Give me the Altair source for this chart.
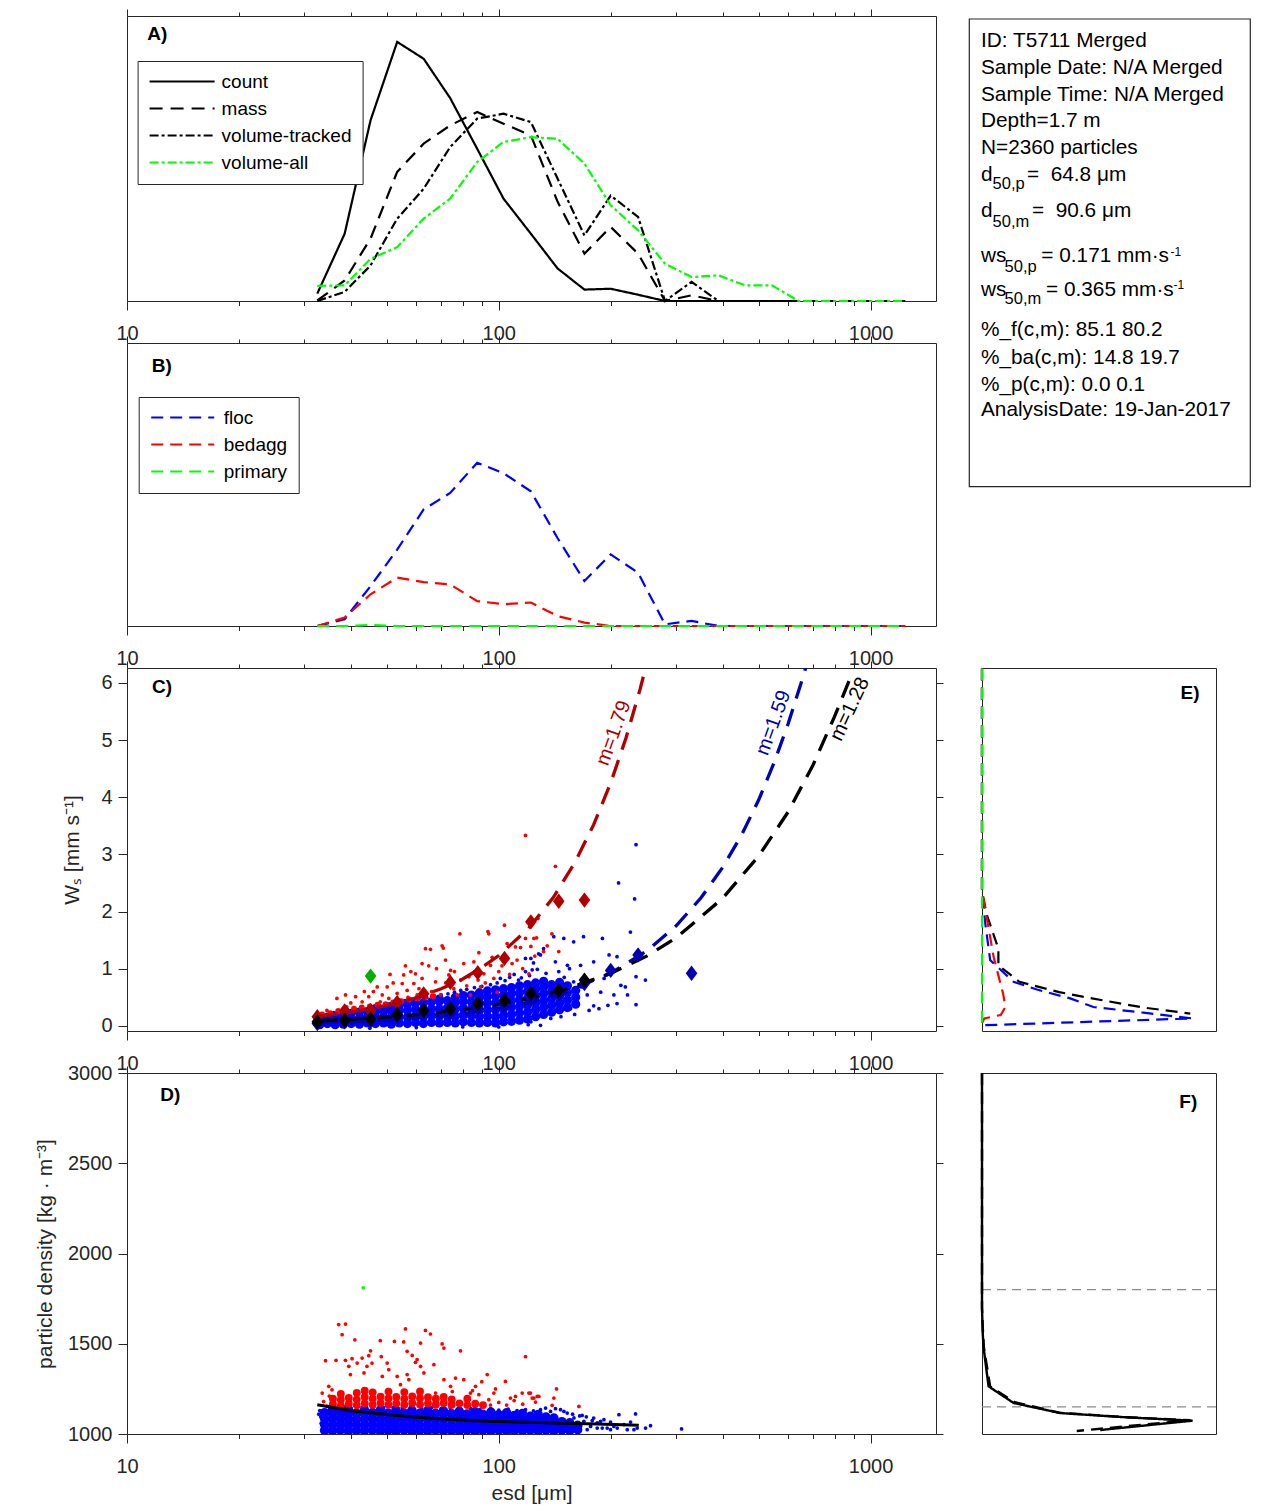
import altair as alt
import pandas as pd

FONT = "Liberation Sans"
INK = "#262626"
BLUE = "#0000ff"
RED = "#ff0000"
GREEN = "#00ff00"
DRED = "#b00000"
DBLUE = "#0000b4"
DGREEN = "#00b000"

# ---------------- size bins (um) for panels A and B ----------------
BINS = [32.5, 38.5, 45.2, 53.3, 62.8, 74.0, 87.5, 103, 122, 144, 170, 200, 237,
        280, 330, 390, 460, 543, 640, 755, 890, 1050, 1240]

A_COUNT = [0.026, 0.236, 0.634, 0.909, 0.850, 0.712, 0.534, 0.359, 0.236, 0.114,
           0.040, 0.043, 0.022, 0.0, 0.0, 0.0, 0.0, 0.0, 0.0]
A_MASS = [0.002, 0.072, 0.219, 0.453, 0.552, 0.616, 0.663, 0.622, 0.581, 0.348,
          0.166, 0.260, 0.166, 0.0, 0.020, 0.0, 0.0, 0.0, 0.0]
A_VOLTRACK = [0.0, 0.032, 0.125, 0.289, 0.394, 0.540, 0.640, 0.657, 0.628, 0.429,
              0.230, 0.370, 0.295, 0.0, 0.067, 0.0, 0.0, 0.0, 0.0, 0.0, 0.0, 0.0, 0.0]
A_VOLALL = [0.053, 0.055, 0.148, 0.189, 0.289, 0.359, 0.488, 0.558, 0.575, 0.569,
            0.482, 0.336, 0.248, 0.131, 0.084, 0.090, 0.055, 0.055, 0.0, 0.0, 0.0, 0.0, 0.0]

B_FLOC = [0.0, 0.024, 0.141, 0.27, 0.412, 0.47, 0.577, 0.54, 0.476, 0.31, 0.159,
          0.253, 0.188, 0.006, 0.018, 0.0, 0.0, 0.0, 0.0, 0.0, 0.0, 0.0, 0.0]
B_BEDAGG = [0.0, 0.03, 0.112, 0.171, 0.155, 0.147, 0.088, 0.077, 0.083, 0.035,
            0.012, 0.0, 0.0, 0.0, 0.0, 0.0, 0.0, 0.0, 0.0, 0.0, 0.0, 0.0, 0.0]
B_PRIMARY = [0.0, 0.0, 0.004, 0.0, 0.0, 0.0, 0.0, 0.0, 0.0, 0.0, 0.0, 0.0, 0.0,
             0.0, 0.0, 0.0, 0.0, 0.0, 0.0, 0.0, 0.0, 0.0, 0.0]

# ---------------- panel C: settling velocity vs esd ----------------
C_FLOC_CORE = [
    (33.0, [0.02, 0.12]), (34.6, [0.04, 0.14]), (36.3, [0.02, 0.11, 0.17]),
    (38.2, [0.03, 0.13, 0.2]), (40.1, [0.04, 0.12, 0.22]), (42.2, [0.03, 0.14, 0.24]),
    (44.3, [0.05, 0.15, 0.25]), (46.6, [0.04, 0.14, 0.24, 0.3]), (49.0, [0.05, 0.16, 0.27]),
    (51.4, [0.03, 0.14, 0.25, 0.34]), (54.0, [0.05, 0.16, 0.27, 0.36]),
    (56.8, [0.04, 0.15, 0.27, 0.38]), (59.7, [0.06, 0.17, 0.29, 0.4]),
    (62.7, [0.04, 0.16, 0.28, 0.4]), (65.9, [0.06, 0.18, 0.3, 0.42]),
    (69.2, [0.05, 0.17, 0.3, 0.43, 0.47]), (72.7, [0.06, 0.18, 0.31, 0.44]),
    (76.4, [0.05, 0.17, 0.29, 0.41, 0.5]), (80.3, [0.07, 0.19, 0.31, 0.43, 0.53]),
    (84.4, [0.06, 0.18, 0.3, 0.42, 0.54]), (88.7, [0.05, 0.16, 0.27, 0.38, 0.49, 0.58]),
    (93.2, [0.06, 0.17, 0.28, 0.4, 0.51, 0.61]), (98.0, [0.05, 0.16, 0.28, 0.4, 0.52, 0.63]),
    (103.0, [0.07, 0.18, 0.3, 0.42, 0.54, 0.65]), (108.2, [0.08, 0.2, 0.32, 0.44, 0.56, 0.67]),
    (113.7, [0.1, 0.22, 0.34, 0.46, 0.58, 0.7]), (119.5, [0.12, 0.24, 0.36, 0.48, 0.6, 0.72]),
    (125.6, [0.16, 0.28, 0.4, 0.52, 0.64, 0.75]), (132.0, [0.2, 0.32, 0.44, 0.56, 0.68, 0.78]),
    (138.7, [0.24, 0.36, 0.48, 0.6, 0.72]), (145.7, [0.28, 0.4, 0.52, 0.64, 0.76]),
    (153.0, [0.32, 0.45, 0.58, 0.7]), (161.0, [0.38, 0.5, 0.62]),
]
C_FLOC_DOTS = [
    (32.6, -0.03), (33.4, 0.19), (34.5, 0.2), (36.0, 0.23), (37.5, 0.19), (39.0, 0.26),
    (41.0, 0.29), (43.0, 0.3), (45.5, 0.33), (48.0, 0.35), (50.5, 0.38), (53.0, 0.41),
    (56.0, 0.44), (58.5, 0.46), (61.0, 0.48), (64.0, 0.5), (67.0, 0.53), (70.0, 0.54),
    (73.0, 0.56), (76.0, 0.59), (79.0, 0.62), (82.0, 0.64), (86.0, 0.67), (90.0, 0.69),
    (95.0, 0.72), (99.0, 0.75), (101.0, 0.83), (104.0, 0.79), (107.0, 0.85), (110.0, 0.9),
    (113.0, 0.8), (115.0, 0.84), (118.0, 0.95), (118.0, 1.18), (121.0, 0.88), (123.0, 0.98),
    (124.0, 1.1), (128.0, 1.26), (122.0, 1.18), (127.0, 0.99), (129.5, 1.24), (132.0, 1.35),
    (134.0, 0.92), (138.0, 0.13), (140.6, 1.56), (142.0, 1.12), (145.0, 0.95), (147.0, 0.16),
    (149.6, 1.53), (150.0, 0.85), (153.0, 1.06), (155.0, 1.0), (156.0, 0.3), (159.0, 1.47),
    (159.0, 0.77), (160.0, 0.2), (166.0, 1.06), (167.0, 0.68), (169.0, 1.56), (173.0, 0.54),
    (175.0, 0.27), (180.0, 1.12), (180.0, 0.35), (186.0, 0.3), (188.0, 0.59), (190.0, 1.53),
    (192.0, 0.83), (196.6, 0.36), (198.0, 1.24), (204.0, 0.54), (208.0, 1.21), (208.0, 0.39),
    (210.0, 2.5), (213.0, 0.71), (219.0, 0.68), (222.0, 0.54), (226.0, 1.64), (232.0, 2.22),
    (234.0, 3.17), (234.0, 0.86), (234.0, 0.37), (248.0, 0.8), (122.0, 0.07), (129.5, 0.01),
    (100.0, -0.02), (80.0, -0.02), (60.0, -0.03), (45.0, -0.04), (120.0, 0.02),
]
C_BED_CORE = [
    (33.5, 0.2), (35.2, 0.22), (37.0, 0.26), (38.8, 0.28), (40.8, 0.3), (42.8, 0.32),
    (45.0, 0.34), (47.2, 0.37), (49.6, 0.38), (52.0, 0.41), (54.7, 0.43), (57.4, 0.46),
    (60.3, 0.48), (63.3, 0.5), (66.5, 0.52),
]
C_BED_DOTS = [
    (34.5, 0.27), (36.7, 0.48), (38.7, 0.54), (41.2, 0.51), (42.9, 0.42), (44.7, 0.51),
    (47.1, 0.68), (48.6, 0.54), (50.1, 0.68), (50.6, 0.48), (53.3, 0.57), (55.0, 0.74),
    (55.5, 0.89), (56.1, 1.05), (56.7, 0.62), (59.1, 0.74), (59.7, 0.91), (60.3, 0.54),
    (62.2, 0.83), (63.5, 1.35), (65.5, 1.34), (62.2, 1.09), (64.8, 1.05), (67.6, 0.77),
    (69.7, 0.54), (70.4, 1.40), (70.9, 1.36), (71.9, 1.15), (73.4, 0.89), (74.2, 0.97),
    (75.7, 0.65), (77.3, 0.54), (78.6, 1.61), (80.5, 1.09), (83.1, 0.86), (83.9, 0.54),
    (85.7, 1.12), (88.4, 1.28), (89.3, 0.68), (91.2, 0.91), (93.5, 1.65), (94.0, 1.61),
    (95.0, 1.06), (97.0, 0.83), (99.0, 0.59), (103.6, 1.76), (105.3, 1.44), (108.6, 1.09),
    (110.9, 1.38), (114.4, 1.37), (118.0, 3.33), (118.0, 1.53), (120.5, 0.91), (124.3, 1.53),
    (126.4, 1.54), (127.5, 1.88), (139.0, 1.61), (142.0, 2.79), (122.0, 1.39), (125.0, 1.22),
    (132.0, 1.3), (45.0, 0.35), (46.0, 0.6), (48.0, 0.42), (52.0, 0.75), (54.0, 0.45),
    (57.0, 0.5), (58.0, 0.95), (61.0, 0.65), (66.0, 0.6), (68.0, 1.0), (72.0, 0.75),
    (76.0, 0.95), (79.0, 0.8), (82.0, 0.7), (86.0, 0.95), (88.0, 0.8), (92.0, 0.75),
    (96.0, 1.2), (100.0, 0.95), (102.0, 1.05), (107.0, 0.9), (112.0, 1.15), (116.0, 1.0),
    (135.0, 1.4), (145.0, 1.3), (40.0, 0.4), (39.0, 0.33), (43.5, 0.6), (51.0, 0.9),
]
# binned medians (diamonds)
C_MED_BEDAGG = [(32.5, 0.16), (38.5, 0.26), (45.2, 0.27), (53.3, 0.41), (62.8, 0.56),
                (74.1, 0.76), (87.8, 0.93), (103.6, 1.18), (122, 1.82), (145, 2.18), (170, 2.2)]
C_MED_FLOC = [(32.5, 0.04), (38.5, 0.07), (45.2, 0.08), (53.3, 0.16), (62.8, 0.22),
              (74.1, 0.22), (87.8, 0.30), (103.6, 0.36), (122, 0.47), (145, 0.56),
              (170, 0.74), (200, 0.97), (237, 1.24), (330, 0.92)]
C_MED_ALL = [(32.5, 0.07), (38.5, 0.1), (45.2, 0.12), (53.3, 0.2), (62.8, 0.27),
             (74.1, 0.3), (87.8, 0.39), (103.6, 0.45), (122, 0.57), (145, 0.62), (170, 0.8)]
C_MED_PRIMARY = [(45.2, 0.87)]
# fitted curves
FIT_BED_D = [33, 40, 50, 60, 70, 80, 90, 100, 120, 140, 160, 180, 200, 220, 240, 255]
FIT_BED_W = [0.17, 0.24, 0.355, 0.49, 0.65, 0.82, 1.02, 1.23, 1.70, 2.24, 2.85, 3.52,
             4.25, 5.04, 5.89, 6.56]
FIT_FLOC_D = [33, 40, 50, 60, 70, 80, 100, 120, 150, 200, 250, 300, 350, 400, 450, 500,
              550, 600, 650, 690]
FIT_FLOC_W = [0.052, 0.071, 0.10, 0.136, 0.173, 0.214, 0.305, 0.408, 0.582, 0.92, 1.31,
              1.75, 2.24, 2.77, 3.34, 3.95, 4.60, 5.28, 5.99, 6.55]
FIT_ALL_D = [33, 40, 50, 60, 70, 80, 100, 120, 150, 200, 250, 300, 400, 500, 600, 700, 800, 875]
FIT_ALL_W = [0.092, 0.117, 0.156, 0.197, 0.239, 0.284, 0.378, 0.477, 0.635, 0.918, 1.22,
             1.54, 2.23, 2.97, 3.74, 4.56, 5.41, 6.03]
FIT_LABELS = [("m=1.79", 203.6, 5.12), ("m=1.59", 548, 5.30), ("m=1.28", 879, 5.54)]

# ---------------- panel D: particle density vs esd ----------------
D_FLOC_CORE = [
    (34.0, [1020, 1052, 1085, 1118]), (35.7, [1016, 1048, 1080, 1112, 1135]),
    (37.5, [1022, 1055, 1088, 1120]), (39.4, [1015, 1047, 1079, 1110, 1136]),
    (41.4, [1020, 1052, 1084, 1116]), (43.5, [1016, 1048, 1080, 1112, 1134]),
    (45.7, [1021, 1053, 1086, 1118]), (48.0, [1015, 1047, 1079, 1111, 1133]),
    (50.4, [1020, 1052, 1084, 1116]), (52.9, [1016, 1048, 1080, 1112, 1132]),
    (55.6, [1021, 1053, 1085, 1117]), (58.4, [1015, 1047, 1079, 1110, 1131]),
    (61.3, [1020, 1051, 1083, 1115]), (64.4, [1016, 1048, 1080, 1111, 1130]),
    (67.6, [1021, 1052, 1084, 1115]), (71.0, [1015, 1046, 1078, 1109, 1128]),
    (74.6, [1020, 1051, 1082, 1113]), (78.3, [1016, 1047, 1078, 1108, 1126]),
    (82.2, [1021, 1051, 1081, 1111]), (86.3, [1015, 1045, 1076, 1106, 1124]),
    (90.6, [1020, 1050, 1080, 1109]), (95.2, [1016, 1046, 1076, 1104, 1122]),
    (100.0, [1021, 1050, 1079, 1107]), (105.0, [1015, 1044, 1073, 1101, 1118]),
    (110.2, [1020, 1048, 1076, 1103]), (115.8, [1016, 1044, 1071, 1098, 1113]),
    (121.6, [1021, 1047, 1073, 1098]), (127.7, [1016, 1042, 1068, 1093, 1108]),
    (134.0, [1021, 1046, 1070, 1094]), (140.7, [1017, 1042, 1066, 1088]),
    (147.8, [1022, 1046, 1068]), (155.2, [1018, 1042, 1062]), (163.0, [1024, 1048]),
]
D_FLOC_DOTS = [
    (32.8, 1110), (33.0, 1130), (33.2, 1095), (33.3, 1060), (33.6, 1035), (34.2, 1008),
    (36.0, 1140), (37.0, 1148), (38.5, 1150), (40.0, 1145), (42.0, 1152), (44.0, 1148),
    (46.0, 1150), (49.0, 1146), (52.0, 1148), (55.0, 1145), (58.0, 1150), (62.0, 1142),
    (66.0, 1147), (70.0, 1140), (74.0, 1145), (79.0, 1138), (84.0, 1142), (89.0, 1135),
    (95.0, 1140), (100.0, 1132), (106.0, 1138), (112.0, 1130), (118.0, 1135), (124.0, 1128),
    (129.5, 1135), (133.6, 1144), (137.8, 1125), (142.1, 1140), (146.6, 1135), (149.7, 1125),
    (152.8, 1116), (159.3, 1089), (167.6, 1103), (169.4, 1070), (178.4, 1074), (184.0, 1061),
    (187.8, 1070), (191.8, 1079), (199.8, 1066), (204.0, 1042), (210.5, 1107), (217.1, 1052),
    (226.2, 1066), (233.3, 1111), (235.7, 1033), (248.2, 1033), (256.0, 1046), (310.2, 1028),
    (184.0, 1033), (165.9, 1042), (156.0, 1029), (149.7, 1014), (137.8, 1014), (208.3, 1033),
    (221.6, 1024), (195.7, 1033), (176.6, 1042), (162.6, 1061), (172.9, 1024), (199.8, 1024),
    (231.0, 1024), (189.8, 1033), (158.0, 1110), (165.0, 1100), (172.0, 1095), (180.0, 1088),
]
D_BED_CORE = [
    (35.8, [1165, 1195]), (37.6, [1158, 1190, 1222]), (39.5, [1168, 1200]),
    (41.5, [1160, 1192, 1228]), (43.6, [1170, 1205, 1240]), (45.8, [1162, 1195, 1230]),
    (48.1, [1172, 1207]), (50.5, [1163, 1197, 1235]), (53.0, [1170, 1205]),
    (55.7, [1162, 1196, 1232]), (58.5, [1172, 1208]), (61.4, [1163, 1198, 1236]),
    (64.5, [1170, 1204]), (67.7, [1162, 1195]), (71.1, [1172, 1205]), (74.7, [1162, 1192]),
    (78.4, [1170]), (82.3, [1160, 1195]), (86.4, [1168]), (90.7, [1160]),
]
D_BED_DOTS = [
    (34.2, 1406), (36.5, 1408), (38.7, 1408), (40.3, 1417), (42.9, 1421), (37.1, 1606),
    (38.7, 1609), (37.9, 1550), (41.0, 1522), (48.0, 1517), (52.4, 1513), (55.5, 1510),
    (56.1, 1582), (63.5, 1574), (65.5, 1554), (70.4, 1499), (71.2, 1476), (78.9, 1461),
    (118.0, 1428), (45.2, 1461), (44.7, 1434), (48.3, 1428), (56.7, 1458), (58.5, 1435),
    (60.3, 1412), (59.7, 1397), (61.6, 1504), (33.5, 1227), (34.9, 1264), (35.6, 1245),
    (39.5, 1375), (39.9, 1329), (41.6, 1393), (43.4, 1338), (44.2, 1375), (45.6, 1393),
    (48.6, 1319), (50.1, 1393), (50.6, 1356), (53.3, 1319), (54.4, 1273), (56.7, 1329),
    (57.3, 1301), (61.6, 1375), (62.9, 1338), (66.9, 1384), (67.6, 1227), (71.2, 1301),
    (74.2, 1264), (76.5, 1310), (80.5, 1301), (83.9, 1227), (86.6, 1264), (88.4, 1218),
    (93.1, 1329), (94.0, 1190), (97.0, 1227), (104.2, 1291), (107.5, 1199), (110.9, 1208),
    (115.6, 1227), (120.5, 1227), (124.3, 1199), (128.2, 1208), (121.7, 1227), (123.0, 1199),
    (126.9, 1208), (125.6, 1177), (139.2, 1159), (140.7, 1199), (143.0, 1250), (164.3, 1153),
    (33.8, 1180), (34.5, 1155), (35.0, 1210), (95.0, 1160), (100.0, 1175), (105.0, 1160),
    (110.0, 1185), (116.0, 1165), (98.0, 1250), (90.0, 1290), (85.0, 1240), (75.0, 1235),
]
D_FIT_D = [32.5, 40.6, 50.1, 61.6, 75.7, 93.1, 121.7, 149.7, 184, 238]
D_FIT_R = [1162, 1128, 1108, 1092, 1080, 1071, 1065, 1060, 1055, 1048]
D_PRIMARY = [(43.2, 1810)]

# ---------------- panel E: distributions over settling velocity ----------------
E_ALL_F = [0.0, 0.0, 0.02, 0.07, 0.07, 0.16, 0.33, 0.47, 0.69, 0.89]
E_ALL_W = [6.25, 2.35, 1.95, 1.35, 1.06, 0.77, 0.59, 0.48, 0.32, 0.215]
E_FLOC_F = [0.0, 0.0, 0.014, 0.035, 0.135, 0.235, 0.377, 0.476, 0.69, 0.90, 0.0]
E_FLOC_W = [6.25, 2.37, 1.79, 1.15, 0.77, 0.635, 0.48, 0.33, 0.23, 0.13, 0.01]
E_BED_F = [0.0, 0.0, 0.02, 0.05, 0.09, 0.10, 0.08, 0.01, 0.0]
E_BED_W = [6.25, 2.37, 1.9, 1.2, 0.565, 0.33, 0.19, 0.13, 0.05]
E_PRIM_F = [0.0, 0.0]
E_PRIM_W = [6.25, 0.0]

# ---------------- panel F: distributions over density ----------------
F_SOLID_F = [0.0, 0.0, 0.003, 0.007, 0.028, 0.135, 0.334, 0.62, 0.90, 0.505]
F_SOLID_R = [3000, 1700, 1560, 1476, 1264, 1172, 1116, 1092, 1074, 1022]
F_DASH_F = [0.0, 0.0, 0.004, 0.008, 0.035, 0.14, 0.33, 0.62, 0.89, 0.405]
F_DASH_R = [3000, 1700, 1570, 1480, 1262, 1176, 1118, 1093, 1076, 1017]
F_REF = [1800, 1150]

# ---------------- info box ----------------
BOX_MAIN = ["ID: T5711 Merged", "Sample Date: N/A Merged", "Sample Time: N/A Merged",
            "Depth=1.7 m", "N=2360 particles", "d", "=\u00a0 64.8 μm", "d", "=\u00a0 90.6 μm",
            "ws", "= 0.171 mm·s", "ws", "= 0.365 mm·s", "%_f(c,m): 85.1 80.2",
            "%_ba(c,m): 14.8 19.7", "%_p(c,m): 0.0 0.1", "AnalysisDate: 19-Jan-2017"]
BOX_SUB = ["50,p", "50,m", "50,p", "50,m"]
BOX_SUP = ["-1", "-1"]

# layout of the info box (pixels inside its cell)
MAIN_XY = [(-1, 30.7), (-1, 58), (-1, 84.7), (-1, 111.4), (-1, 138), (-1, 164.7), (45, 164.7),
           (-1, 201.4), (50, 201.4), (-1, 246.4), (59.3, 246.4), (-1, 279.7), (64, 279.7),
           (-1, 319.7), (-1, 348), (-1, 374.7), (-1, 399.7)]
SUB_XY = [(10.6, 173), (10.6, 211.4), (22.6, 256.4), (22.6, 288)]
SUP_XY = [(188.5, 239.7), (191.5, 273)]

# ======================================================================
ONE = pd.DataFrame({"k": [0]})
W_MAIN = 809
XT = [10, 20, 30, 40, 50, 60, 70, 80, 90, 100, 200, 300, 400, 500, 600, 700, 800, 900, 1000]
MAJ = "datum.value == 10 || datum.value == 100 || datum.value == 1000"
XS = alt.Scale(type="log", domain=[10, 1500], nice=False)
CY = alt.Scale(domain=[-0.09, 6.26], nice=False, zero=False)
DY = alt.Scale(domain=[1000, 3000], nice=False, zero=False)
FX = alt.Scale(domain=[0, 1], nice=False, zero=False)


def x_bottom(title=None):
    kw = dict(orient="bottom", values=XT, labelExpr=f"({MAJ}) ? datum.value + '' : ''",
              tickSize={"condition": {"test": MAJ, "value": 9}, "value": 4.5},
              labelPadding=13, labelFlush=False, labelOverlap=False)
    if title is None:
        return alt.Axis(title=None, **kw)
    return alt.Axis(title=title, titleX=W_MAIN / 2, titleY=65, titleBaseline="alphabetic",
                    titleFontSize=21, **kw)


def x_top():
    return alt.Axis(orient="top", values=XT, title=None, labels=False,
                    tickSize={"condition": {"test": MAJ, "value": 7}, "value": 4})


def y_title_only(title, tx, ty):
    return alt.Axis(orient="left", title=title, ticks=False, labels=False, titleX=tx,
                    titleY=ty, titleAngle=270, titleBaseline="middle", titleAlign="center")


def plabel(txt, x, y, align="left"):
    return alt.Chart(ONE).mark_text(text=txt, fontSize=19, fontWeight="bold", align=align,
                                    baseline="middle", color="black").encode(
        x=alt.value(x), y=alt.value(y))


def long_df(series):
    rows = []
    for name, vals in series:
        for d, v in zip(BINS, vals):
            rows.append({"d": d, "f": v, "s": name})
    return pd.DataFrame(rows)


def pts(pairs, y="w"):
    return pd.DataFrame(pairs, columns=["d", y])


def colpts(columns, y="w"):
    return pd.DataFrame([(d, v) for d, vs in columns for v in vs], columns=["d", y])


# ---------------- A ----------------
A_ORDER = ["count", "mass", "volume-tracked", "volume-all"]
dfA = long_df([("count", A_COUNT), ("mass", A_MASS), ("volume-tracked", A_VOLTRACK),
               ("volume-all", A_VOLALL)])
legA = alt.Legend(orient="none", legendX=10.6, legendY=45, title=None, symbolType="stroke",
                  symbolSize=4225, symbolStrokeWidth=2, labelFontSize=19, labelColor="black",
                  labelOffset=6, padding=11, rowPadding=7, clipHeight=19, strokeColor=INK,
                  fillColor="white", labelLimit=400, symbolOpacity=1)
A_lines = alt.Chart(dfA).mark_line(strokeWidth=2.2).encode(
    x=alt.X("d:Q", scale=XS, axis=x_bottom()),
    y=alt.Y("f:Q", scale=alt.Scale(domain=[0, 1], nice=False), axis=y_title_only("fraction", -27, 142.5)),
    color=alt.Color("s:N", scale=alt.Scale(domain=A_ORDER, range=["black", "black", "black", GREEN]),
                    legend=legA),
    strokeDash=alt.StrokeDash("s:N", scale=alt.Scale(domain=A_ORDER,
                                                     range=[[1, 0], [13, 8], [9, 3, 3, 3], [9, 3, 3, 3]]),
                              legend=legA),
)
A_top = alt.Chart(dfA).mark_point(opacity=0).encode(
    x=alt.X("d:Q", scale=XS, axis=x_top()),
    y=alt.Y("f:Q", scale=alt.Scale(domain=[0, 1], nice=False), axis=None))
PA = alt.layer(A_lines, A_top, plabel("A)", 20.3, 18)).properties(width=W_MAIN, height=285)

# ---------------- B ----------------
B_ORDER = ["floc", "bedagg", "primary"]
dfB = long_df([("floc", B_FLOC), ("bedagg", B_BEDAGG), ("primary", B_PRIMARY)])
legB = alt.Legend(orient="none", legendX=11.7, legendY=54, title=None, symbolType="stroke",
                  symbolSize=3969, symbolStrokeWidth=2.2, labelFontSize=19, labelColor="black",
                  labelOffset=8, padding=11, rowPadding=7, clipHeight=19, strokeColor=INK,
                  fillColor="white", labelLimit=400, symbolOpacity=1)
B_lines = alt.Chart(dfB).mark_line(strokeWidth=2.2).encode(
    x=alt.X("d:Q", scale=XS, axis=x_bottom()),
    y=alt.Y("f:Q", scale=alt.Scale(domain=[0, 1], nice=False), axis=y_title_only("mass fraction", -27, 141.5)),
    color=alt.Color("s:N", scale=alt.Scale(domain=B_ORDER, range=[BLUE, RED, GREEN]), legend=legB),
    strokeDash=alt.StrokeDash("s:N", scale=alt.Scale(domain=B_ORDER, range=[[12, 7], [12, 7], [12, 7]]),
                              legend=legB),
)
B_top = alt.Chart(dfB).mark_point(opacity=0).encode(
    x=alt.X("d:Q", scale=XS, axis=x_top()),
    y=alt.Y("f:Q", scale=alt.Scale(domain=[0, 1], nice=False), axis=None))
PB = alt.layer(B_lines, B_top, plabel("B)", 24.8, 23)).properties(width=W_MAIN, height=283)


# ---------------- C ----------------
def cx(axis=None):
    return alt.X("d:Q", scale=XS, axis=axis)


def cy(axis=None):
    return alt.Y("w:Q", scale=CY, axis=axis)


C_YLEFT = alt.Axis(orient="left", values=[0, 1, 2, 3, 4, 5, 6], format="d", tickSize=9,
                   labelPadding=6, title="Wₛ [mm s⁻¹]", titleX=-55, titleY=181.5,
                   titleAngle=270, titleBaseline="middle", titleAlign="center")
C_YRIGHT = alt.Axis(orient="right", values=[0, 1, 2, 3, 4, 5, 6], tickSize=7, labels=False, title=None)

DIAMOND = "M0,-1L0.76,0L0,1L-0.76,0Z"
MED_ORDER = ["bedagg", "floc", "all", "primary"]
med_rows = ([(d, w, "bedagg") for d, w in C_MED_BEDAGG] + [(d, w, "floc") for d, w in C_MED_FLOC]
            + [(d, w, "all") for d, w in C_MED_ALL] + [(d, w, "primary") for d, w in C_MED_PRIMARY])
dfMed = pd.DataFrame(med_rows, columns=["d", "w", "s"])


def fit_line(ds, ws, color):
    return alt.Chart(pd.DataFrame({"d": ds, "w": ws})).mark_line(
        color=color, strokeWidth=3.3, strokeDash=[18, 11], clip=True).encode(x=cx(), y=cy())


c_layers = [
    alt.Chart(colpts(C_FLOC_CORE)).mark_circle(size=85, color=BLUE, opacity=1).encode(
        x=cx(x_bottom()), y=cy(C_YLEFT)),
    alt.Chart(pts(C_FLOC_DOTS)).mark_circle(size=14, color=BLUE, opacity=1).encode(x=cx(), y=cy()),
    alt.Chart(pts(C_BED_CORE)).mark_circle(size=36, color=RED, opacity=1).encode(x=cx(), y=cy()),
    alt.Chart(pts(C_BED_DOTS)).mark_circle(size=14, color=RED, opacity=1).encode(x=cx(), y=cy()),
    fit_line(FIT_FLOC_D, FIT_FLOC_W, DBLUE),
    fit_line(FIT_ALL_D, FIT_ALL_W, "black"),
    fit_line(FIT_BED_D, FIT_BED_W, DRED),
    alt.Chart(dfMed).mark_point(shape=DIAMOND, filled=True, size=234, opacity=1).encode(
        x=cx(), y=cy(),
        fill=alt.Fill("s:N", scale=alt.Scale(domain=MED_ORDER, range=[DRED, DBLUE, "black", DGREEN]),
                      legend=None)),
]
for (txt, d, w), col, ang in zip(FIT_LABELS, [DRED, DBLUE, "black"], [290, 290, 295]):
    c_layers.append(alt.Chart(pd.DataFrame({"d": [d], "w": [w], "t": [txt]})).mark_text(
        color=col, fontSize=20, angle=ang, align="center", baseline="middle").encode(
        x=cx(), y=cy(), text="t:N"))
c_layers.append(alt.Chart(pts(C_FLOC_DOTS)).mark_point(opacity=0).encode(x=cx(x_top()), y=cy(C_YRIGHT)))
c_layers.append(plabel("C)", 25, 18.7))
PC = alt.layer(*c_layers).properties(width=W_MAIN, height=363)


# ---------------- D ----------------
def dy(axis=None):
    return alt.Y("r:Q", scale=DY, axis=axis)


D_YLEFT = alt.Axis(orient="left", values=[1000, 1500, 2000, 2500, 3000], format="d", tickSize=9,
                   labelPadding=6, title="particle density [kg · m⁻³]", titleX=-82, titleY=180.5,
                   titleAngle=270, titleBaseline="middle", titleAlign="center")
D_YRIGHT = alt.Axis(orient="right", values=[1000, 1500, 2000, 2500, 3000], tickSize=7,
                    labels=False, title=None)
d_layers = [
    alt.Chart(colpts(D_FLOC_CORE, "r")).mark_circle(size=90, color=BLUE, opacity=1, clip=True).encode(
        x=cx(x_bottom("esd [μm]")), y=dy(D_YLEFT)),
    alt.Chart(pts(D_FLOC_DOTS, "r")).mark_circle(size=14, color=BLUE, opacity=1, clip=True).encode(x=cx(), y=dy()),
    alt.Chart(colpts(D_BED_CORE, "r")).mark_circle(size=62, color=RED, opacity=1).encode(x=cx(), y=dy()),
    alt.Chart(pts(D_BED_DOTS, "r")).mark_circle(size=14, color=RED, opacity=1).encode(x=cx(), y=dy()),
    alt.Chart(pd.DataFrame({"d": D_FIT_D, "r": D_FIT_R})).mark_line(color="black", strokeWidth=3).encode(
        x=cx(), y=dy()),
    alt.Chart(pts(D_PRIMARY, "r")).mark_circle(size=14, color=GREEN, opacity=1).encode(x=cx(), y=dy()),
    alt.Chart(pts(D_FLOC_DOTS, "r")).mark_point(opacity=0).encode(x=cx(x_top()), y=dy(D_YRIGHT)),
    plabel("D)", 33.3, 22),
]
PD = alt.layer(*d_layers).properties(width=W_MAIN, height=361)


# ---------------- E ----------------
def prof(fs, vs, color, dash, width, yname, yscale):
    df = pd.DataFrame({"f": fs, yname: vs, "i": list(range(len(fs)))})
    return alt.Chart(df).mark_line(color=color, strokeDash=dash, strokeWidth=width).encode(
        x=alt.X("f:Q", scale=FX, axis=None), y=alt.Y(f"{yname}:Q", scale=yscale, axis=None),
        order="i:Q")


E_YRIGHT = alt.Axis(orient="right", values=[0, 1, 2, 3, 4, 5, 6], tickSize=4, offset=-4,
                    labels=False, title=None)
e_layers = [
    prof(E_ALL_F, E_ALL_W, "black", [12, 7], 2.2, "w", CY),
    prof(E_FLOC_F, E_FLOC_W, BLUE, [12, 7], 2.2, "w", CY),
    prof(E_BED_F, E_BED_W, RED, [12, 7], 2.2, "w", CY),
    prof(E_PRIM_F, E_PRIM_W, GREEN, [12, 7], 2.2, "w", CY),
    alt.Chart(pd.DataFrame({"f": E_ALL_F, "w": E_ALL_W})).mark_point(opacity=0).encode(
        x=alt.X("f:Q", scale=FX, axis=None), y=alt.Y("w:Q", scale=CY, axis=E_YRIGHT)),
    plabel("E)", 217.6, 24.5, "right"),
]
PE = alt.layer(*e_layers).properties(width=234, height=363)

# ---------------- F ----------------
F_YRIGHT = alt.Axis(orient="right", values=[1000, 1500, 2000, 2500, 3000], tickSize=4, offset=-4,
                    labels=False, title=None)
f_layers = [
    alt.Chart(pd.DataFrame({"r": F_REF})).mark_rule(color="#8c8c8c", strokeWidth=1.3,
                                                   strokeDash=[9, 6]).encode(
        y=alt.Y("r:Q", scale=DY, axis=None)),
    prof(F_DASH_F, F_DASH_R, "black", [12, 7], 2.4, "r", DY),
    prof(F_SOLID_F, F_SOLID_R, "black", [1, 0], 2.4, "r", DY),
    alt.Chart(pd.DataFrame({"f": F_SOLID_F, "r": F_SOLID_R})).mark_point(opacity=0).encode(
        x=alt.X("f:Q", scale=FX, axis=None), y=alt.Y("r:Q", scale=DY, axis=F_YRIGHT)),
    plabel("F)", 215.3, 29, "right"),
]
PF = alt.layer(*f_layers).properties(width=234, height=361)

# ---------------- info box ----------------
def box_text(texts, xy, size):
    df = pd.DataFrame({"t": texts, "x": [p[0] for p in xy], "y": [p[1] for p in xy]})
    return alt.Chart(df).mark_text(align="left", baseline="alphabetic", fontSize=size,
                                   color="black").encode(
        x=alt.X("x:Q", scale=None, axis=None), y=alt.Y("y:Q", scale=None, axis=None), text="t:N")


box_rect = alt.Chart(ONE).mark_rect(fill="white", stroke=INK, strokeWidth=1.2).encode(
    x=alt.value(-12.7), x2=alt.value(268.3), y=alt.value(3), y2=alt.value(470.7))
PBOX = alt.layer(box_rect, box_text(BOX_MAIN, MAIN_XY, 20.8), box_text(BOX_SUB, SUB_XY, 16.5),
                 box_text(BOX_SUP, SUP_XY, 12)).properties(
    width=234, height=285, view=alt.ViewBackground(stroke="transparent"))

PBLANK = alt.Chart(ONE).mark_text(text="").encode(x=alt.value(0), y=alt.value(0)).properties(
    width=234, height=283, view=alt.ViewBackground(stroke="transparent"))

chart = alt.concat(PA, PBOX, PB, PBLANK, PC, PE, PD, PF, columns=2,
                   spacing={"row": 42, "column": 46}, bounds="flush").resolve_scale(
    color="independent", strokeDash="independent", fill="independent"
).properties(
    padding={"left": 25, "top": 0, "right": 2, "bottom": 0}
).configure(font=FONT).configure_view(stroke=INK, strokeWidth=1).configure_axis(
    grid=False, domain=False, tickColor=INK, tickWidth=1, labelColor=INK, titleColor=INK,
    labelFontSize=20, titleFontSize=21, titleFontWeight="normal", labelFont=FONT, titleFont=FONT)

chart.save("out.html", embed_options={"renderer": "svg", "actions": False})
